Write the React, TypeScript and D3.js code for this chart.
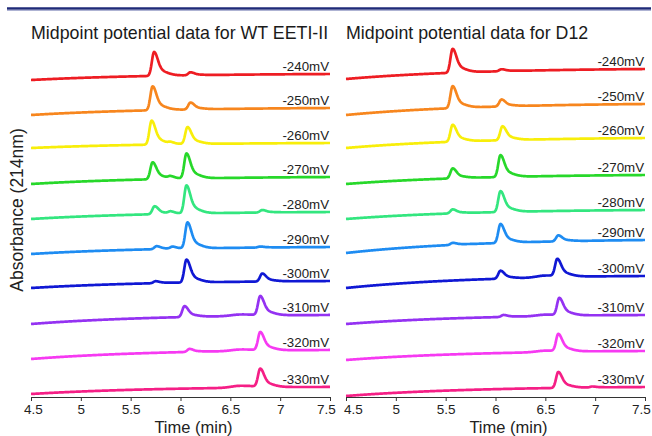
import * as d3 from 'd3';
import {useEffect, useRef} from 'react';

// redox potentials, top trace first
const potentials = ["-240mV", "-250mV", "-260mV", "-270mV", "-280mV", "-290mV", "-300mV", "-310mV", "-320mV", "-330mV"];
const traceColors = ["#ee1d23", "#f7861e", "#f8ee0a", "#27d82a", "#33e67f", "#1e8cf2", "#1018d4", "#9432f2", "#f63af2", "#f51f86"];

// peaks per trace: [time (min), height, width factor]
const wtPeaks: number[][][] = [
    [[5.735, 24, 1], [6.1, 3, 1]],
    [[5.72, 24, 1], [6.1, 7, 1]],
    [[5.71, 24, 1], [5.9, 1.5, 1], [6.07, 17, 1]],
    [[5.72, 17, 1], [5.9, 2, 1], [6.06, 25, 1]],
    [[5.74, 8, 1], [5.9, 2, 1], [6.06, 28, 1], [6.82, 2.5, 1]],
    [[5.76, 3, 1], [5.92, 2, 1], [6.07, 26, 1], [6.8, 1, 1]],
    [[5.75, 2, 1], [6.06, 23, 1], [6.82, 8, 1]],
    [[6.04, 11, 1], [6.6, 1.5, 4], [6.8, 19, 1]],
    [[6.09, 3, 1], [6.6, 1.5, 4], [6.8, 18, 1]],
    [[6.6, 2, 4], [6.8, 18, 1]],
];
const d12Peaks: number[][][] = [
    [[5.57, 24, 1], [6.06, 2, 1]],
    [[5.57, 22, 1], [6.06, 7, 1]],
    [[5.57, 17, 1], [6.07, 14, 1]],
    [[5.57, 10, 1], [6.05, 22, 1]],
    [[5.57, 4, 1], [6.05, 21, 1]],
    [[5.57, 2, 1], [6.05, 19, 1], [6.63, 6, 1]],
    [[6.05, 8, 1], [6.5, 2, 4], [6.62, 17, 1]],
    [[6.08, 2, 1], [6.5, 1.5, 4], [6.64, 17, 1]],
    [[6.5, 1.5, 4], [6.63, 17, 1]],
    [[6.63, 16, 1], [6.97, 1, 1]],
];
// baseline at 4.5 min and at 7.5 min, relative to stack offset
const wtStart = [1, 1, 3, 2, 2, 2, 3, 2, 2, 2];
const wtEnd = [7, 8, 8, 9, 9, 9, 10, 11, 11, 9];
const d12Start = [2, 1, 3, 2, 2, 3, 3, 2, 1, 0];
const d12End = [12, 12, 13, 11, 11, 16, 15, 11, 10, 9];

const timeTicks = [4.5, 5, 5.5, 6, 6.5, 7, 7.5];
const stackStep = 35;

const width = 652;
const height = 436;
const font = "'Liberation Sans', Arial, sans-serif";

const times = d3.range(4.5, 7.5001, 0.005);

// sharp front, tailing back
function peakShape(dt: number, w: number) {
    if (dt < 0) return Math.exp(-0.5 * (dt / (0.022 * w)) ** 2);
    return 0.7 * Math.exp(-0.5 * (dt / (0.035 * w)) ** 2) + 0.3 * Math.exp(-0.5 * (dt / (0.1 * w)) ** 2);
}

const y = d3.scaleLinear().domain([0, 350]).range([396, 46]);

function Panel(props: {x0: number, x1: number, title: string, peaks: number[][][], start: number[], end: number[], edgeShift: number[]}) {
    const {x0, x1, title, peaks, start, end, edgeShift} = props;
    const axisRef = useRef<SVGGElement>(null);
    const x = d3.scaleLinear().domain([4.5, 7.5]).range([x0, x1]);

    useEffect(() => {
        const g = d3.select(axisRef.current);
        g.selectAll("*").remove();
        g.call(d3.axisBottom(x).tickValues(timeTicks).tickFormat(d3.format("~g") as any).tickSize(4).tickSizeOuter(4).tickPadding(3));
        g.select(".domain").attr("stroke", "#333");
        g.selectAll(".tick line").attr("stroke", "#333");
        g.selectAll(".tick text")
            .attr("font-size", 13.5)
            .attr("font-family", font)
            .attr("fill", "#222")
            .attr("dx", (d, i) => i === 0 ? edgeShift[0] : i === timeTicks.length - 1 ? edgeShift[1] : 0);
    }, [x0, x1]);

    const traces = potentials.map((p, i) => {
        const offset = (potentials.length - 1 - i) * stackStep;
        const base = (t: number) => {
            const f = (1 - Math.exp(-(t - 4.5) / 1.3)) / (1 - Math.exp(-3 / 1.3));
            return start[i] + (end[i] - start[i]) * f;
        };
        const pts = times.map(t => {
            let v = offset + base(t);
            peaks[i].forEach(([t0, h, w]) => { v += h * peakShape(t - t0, w); });
            return [t, v] as [number, number];
        });
        return {p, color: traceColors[i], pts, endValue: offset + end[i]};
    });

    const line = d3.line<[number, number]>().x(d => x(d[0])).y(d => y(d[1]));

    return (
        <g>
            <text x={x0} y={38.5} fontSize={17.8} fontFamily={font} fill="#1a1a1a">{title}</text>
            {traces.map(tr => (
                <g key={tr.p}>
                    <path d={line(tr.pts) ?? ""} fill="none" stroke={tr.color} strokeWidth={2.7} strokeLinejoin="round" />
                    <text x={x1 - 1} y={y(tr.endValue) - 3} textAnchor="end" fontSize={13.3} fontFamily={font} fill="#222">{tr.p}</text>
                </g>
            ))}
            <g ref={axisRef} transform={`translate(0, ${y(0) + 1})`} />
            <text x={(x0 + x1) / 2 + 13} y={433} textAnchor="middle" fontSize={16.5} fontFamily={font} fill="#222">Time (min)</text>
        </g>
    );
}

export default function App() {
    return (
        <svg width={width} height={height} style={{position: "absolute", left: 0, top: 0, background: "#fff"}}>
            <rect x={0} y={0} width={width} height={height} fill="#fff" />
            <line x1={7} x2={651} y1={8.5} y2={8.5} stroke="#1f2a78" strokeWidth={2.5} />
            <line x1={7} x2={651} y1={10.3} y2={10.3} stroke="#9aa0c8" strokeWidth={1} />
            <text transform="translate(23, 210) rotate(-90)" textAnchor="middle" fontSize={17.5} fontFamily={font} fill="#222">Absorbance (214nm)</text>
            <Panel x0={31} x1={330} title="Midpoint potential data for WT EETI-II" peaks={wtPeaks} start={wtStart} end={wtEnd} edgeShift={[2, -4]} />
            <Panel x0={346} x1={645} title="Midpoint potential data for D12" peaks={d12Peaks} start={d12Start} end={d12End} edgeShift={[7, -4]} />
        </svg>
    );
}
